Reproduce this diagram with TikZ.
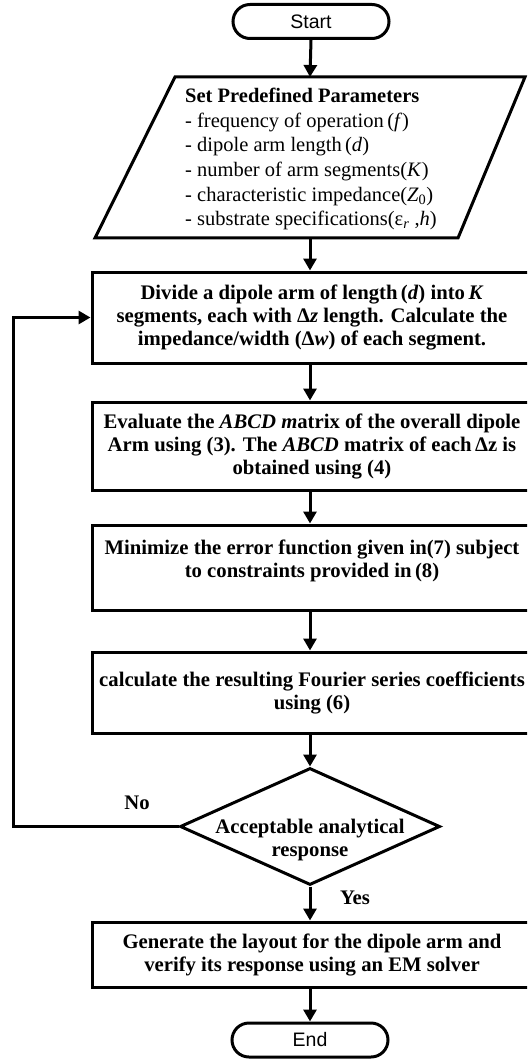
\documentclass[tikz,border=0pt]{standalone}
\usepackage{fontspec}
\setmainfont{Liberation Serif}
\newfontfamily\arialfont{Liberation Sans}
\usetikzlibrary{arrows.meta,shapes.geometric}
\begin{document}
\begin{tikzpicture}[x=1pt,y=-1pt,
  procbox/.style={draw,line width=3pt,minimum width=440pt,inner sep=0pt,align=center,
    font=\bfseries\fontsize{20.7}{23}\selectfont},
  term/.style={draw,line width=3pt,rounded corners=17pt,minimum width=156pt,minimum height=34pt,
    inner sep=0pt,font=\arialfont\fontsize{19.5}{23}\selectfont},
  decision/.style={draw,line width=3pt,diamond,minimum width=260pt,minimum height=117pt,inner sep=0pt},
  arr/.style={line width=3pt,-{Triangle[width=13pt,length=12pt]}},
  lbl/.style={font=\bfseries\fontsize{20.7}{23.5}\selectfont,inner sep=0pt,align=center},
  inlist/.style={font=\fontsize{20.5}{24.6}\selectfont,inner sep=0pt,align=left}
]
\useasboundingbox (0,0) rectangle (527,1059);
\clip (0,0) rectangle (527,1059);

% terminals
\node[term] (start) at (311,21.5) {Start};
\node[term] (end) at (310,1040) {End};

% input parallelogram
\coordinate (ptop) at (310,77);
\coordinate (pbot) at (310,238);
\draw[line width=3pt,line join=miter] (175,77) -- (525,77) -- (458,238) -- (95,238) -- cycle;
\node[inlist,anchor=north west] (ptext) at (185,88) {%
  \textbf{Set Predefined Parameters}\\
  - frequency of operation\,(\textit{f})\\
  - dipole arm length\,(\textit{d})\\
  - number of arm segments(\textit{K})\\
  - characteristic impedance(\textit{Z}\textsubscript{0})\\
  - substrate specifications(ε\textsubscript{\textit{r}} ,\textit{h})};

% process boxes
\node[procbox,minimum height=91pt] (b1) at (312,317.5) {%
  Divide a dipole arm of length\,(\textit{d}) into\,\textit{K}\\
  segments, each with Δ\textit{z} length. Calculate the\\
  impedance/width (Δ\textit{w}) of each segment.};
\node[procbox,minimum height=88pt] (b2) at (312,446) {%
  Evaluate the \textit{ABCD m}atrix of the overall dipole\\
  Arm using (3). The \textit{ABCD} matrix of each\,Δz is\\
  obtained using (4)};
\node[procbox,minimum height=85pt] (b3) at (312,567.5) {%
  Minimize the error function given in(7) subject\\
  to constraints provided in\,(8)\\[-5pt]\mbox{}};
\node[procbox,minimum height=81pt] (b4) at (312,692.5) {%
  calculate the resulting Fourier series coefficients\\
  using (6)};
\node[decision] (dia) at (310,826.5) {};
\node[lbl] (diatext) at (310,840) {Acceptable analytical\\response};
\node[procbox,minimum height=65pt] (b5) at (312,954.5) {%
  Generate the layout for the dipole arm and\\
  verify its response using an EM solver};

% labels
\node[lbl] (no) at (137,803) {No};
\node[lbl] (yes) at (355,898) {Yes};

% connectors
\draw[arr] (start.south) -- (ptop);
\draw[arr] (pbot) -- (pbot |- b1.north);
\draw[arr] (b1.south -| pbot) -- (b2.north -| pbot);
\draw[arr] (b2.south -| pbot) -- (b3.north -| pbot);
\draw[arr] (b3.south -| pbot) -- (b4.north -| pbot);
\draw[arr] (b4.south -| pbot) -- (dia.north);
\draw[arr] (dia.south) -- (b5.north -| dia.south);
\draw[arr] (b5.south -| end.north) -- (end.north);
\draw[arr,line join=miter] (dia.west) -- ++(-165,0) |- (b1.west);
\end{tikzpicture}
\end{document}
